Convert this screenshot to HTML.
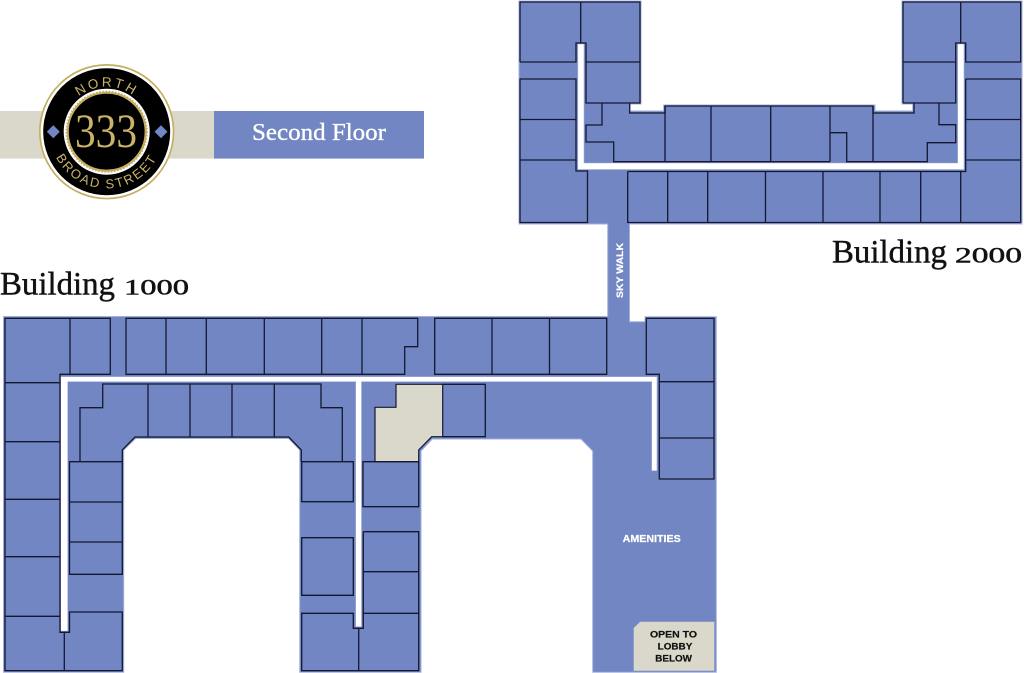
<!DOCTYPE html>
<html><head><meta charset="utf-8"><style>
html,body{margin:0;padding:0;background:#fff;width:1024px;height:673px;overflow:hidden}
svg{display:block}
.s{font-family:"Liberation Serif",serif}
.b{font-family:"Liberation Sans",sans-serif;font-weight:700}
</style></head><body>
<svg width="1024" height="673" viewBox="0 0 1024 673" xmlns="http://www.w3.org/2000/svg">
<!-- header band -->
<rect x="0" y="111" width="214" height="47.6" fill="#dad8cb"/>
<rect x="214" y="111" width="210" height="47.6" fill="#7286c3"/>
<text class="s" x="252" y="140" font-size="24" fill="#fff" stroke="#fff" stroke-width=".35" textLength="134" lengthAdjust="spacingAndGlyphs">Second Floor</text>

<!-- logo -->
<circle cx="106.7" cy="131.7" r="67.7" fill="#c4ae62"/>
<circle cx="106.7" cy="131.7" r="66" fill="#fff"/>
<circle cx="106.7" cy="131.7" r="63.5" fill="#000"/>
<circle cx="106.7" cy="131.7" r="43" fill="#fff"/>
<circle cx="106.7" cy="131.7" r="39" fill="#000" stroke="#c4ae62" stroke-width="2.2"/>
<circle cx="106.7" cy="131.7" r="40.4" fill="none" stroke="#c4ae62" stroke-width="1.4" stroke-dasharray="1.6 1.6"/>
<polygon points="53.3,125.2 59.8,131.7 53.3,138.2 46.8,131.7" fill="#7286c3"/>
<polygon points="161,125.2 167.5,131.7 161,138.2 154.5,131.7" fill="#7286c3"/>
<text class="s" x="75" y="147" font-size="48" fill="#c9b368" textLength="62" lengthAdjust="spacingAndGlyphs">333</text>
<defs>
<path id="arcTop" d="M 61.7 131.7 A 45 45 0 0 1 151.7 131.7"/>
<path id="arcBot" d="M 50 131.7 A 56.7 56.7 0 0 0 163.4 131.7"/>
</defs>
<text font-family="Liberation Sans, sans-serif" font-size="13.5" fill="#c9b368" letter-spacing="2.5" text-anchor="middle"><textPath href="#arcTop" startOffset="50%">NORTH</textPath></text>
<text font-family="Liberation Sans, sans-serif" font-size="13" fill="#c9b368" letter-spacing="2" text-anchor="middle"><textPath href="#arcBot" startOffset="50%">BROAD STREET</textPath></text>

<!-- building labels -->
<g fill="#111" stroke="#111" stroke-width=".45">
<text class="s" x="832" y="262.7" font-size="33" textLength="115" lengthAdjust="spacingAndGlyphs">Building</text>
<text class="s" x="955" y="262.7" font-size="22" textLength="67" lengthAdjust="spacingAndGlyphs">2000</text>
<text class="s" x="0" y="294.7" font-size="33" textLength="115" lengthAdjust="spacingAndGlyphs">Building</text>
<text class="s" x="124" y="294.7" font-size="22" textLength="65" lengthAdjust="spacingAndGlyphs">1000</text>
</g>

<!-- blue floor plate -->
<path fill="#7286c3" stroke="#a3b0dc" stroke-width="1" d="
M519,1 H641 V104 H630 V111 H663.7 V105 H875 V111 H912.7 V104 H902 V1 H1022 V224 H629.5 V321.7 H645 V316.7 H716.3 V672.3 H592.7 V451 L581,439 H432.3 L421,451 V672.3 H299.7 V450 L288.7,438.5 H135.7 L123.7,450 V672.3 H3.5 V316.5 H607.7 V224 H519 Z"/>

<!-- white corridors -->
<g fill="#fff" stroke="#a3b0dc" stroke-width=".6">
<path d="M577.8,44 H584 V163 H957.7 V44 H964 V169.5 H577.8 Z"/>
<path d="M60.7,376.7 H657 V470.7 H651.7 V381.7 H361.5 V626.7 H355.7 V381.7 H67.7 V631 H60.7 Z"/>
</g>

<!-- beige -->
<polygon points="396,384.3 442.7,384.3 442.7,436.7 431.7,436.7 418.7,450 418.7,461.7 375,461.7 375,407.3 396,407.3" fill="#dad8cb" stroke="#141830" stroke-width="1.2"/>
<polygon points="640.3,621.7 714.3,621.7 714.3,670.7 633.7,670.7 633.7,628" fill="#dad8cb"/>

<!-- room lines -->
<g fill="none" stroke="#141830" stroke-width="1.3">
<!-- B2000 left wing -->
<path d="M520,62 V2 H640 V103 H586 V43 H576 V62 H520"/>
<path d="M580.7,2 V43 M586,62 H640"/>
<path d="M629.7,103 V113 H665 V106 H873 V113 H914 V103"/>
<path d="M665,106 V161.7 M711,106 V161.7 M770.7,106 V161.7 M830,106 V161.7 M873,106 V161.7"/>
<path d="M520,79 H576 V160 H520 Z M520,119.5 H576"/>
<path d="M520,160 V222.5 H587.5 V171 H576 V160"/>
<path d="M602,103 V125 H586 V142 H613.7 V161.7 H830"/>
<path d="M830,132.7 H846.7 V161.7 H927.3 V142.7 H955.7 V124.7 H939 V103"/>
<!-- B2000 bottom row -->
<path d="M627.7,171.5 H965.7 V160 M627.7,171.5 V222.5 H1020.7"/>
<path d="M667.7,171.5 V222.5 M707.7,171.5 V222.5 M765.5,171.5 V222.5 M823,171.5 V222.5 M880,171.5 V222.5 M920.7,171.5 V222.5 M960.7,171.5 V222.5"/>
<!-- B2000 right wing -->
<path d="M903,103 V2 H1020.7 V62 H965.7 V43 H955.7 V103 H903 M960.7,2 V43 M903,62 H955.7"/>
<path d="M965.7,79 H1020.7 V222.5 M965.7,79 V160 H1020.7 M965.7,119.5 H1020.7"/>
<!-- B1000 top row -->
<path d="M5,382.7 V318.3 H110.3 V374.3 H60 V382.7 H5 M70,318.3 V374.3"/>
<path d="M126,318.3 H417.7 V346.7 H404.7 V374.3 H126 Z M166,318.3 V374.3 M206.3,318.3 V374.3 M264.3,318.3 V374.3 M321.7,318.3 V374.3 M362,318.3 V374.3"/>
<path d="M434.7,318.3 H606.7 V374.3 H434.7 Z M492,318.3 V374.3 M549.5,318.3 V374.3"/>
<path d="M646.3,318.3 H714 V479 H659.3 V374.3 H646.3 Z M659.3,381.7 H714 M659.3,438 H714"/>
<!-- B1000 left column -->
<path d="M5,382.7 V670.7 H122.3 V612 H69.5 V632.3 H60 V382.7"/>
<path d="M5,441.7 H60 M5,499.3 H60 M5,556.7 H60 M5,616.3 H60 M64.3,632.3 V670.7"/>
<!-- inner U -->
<path d="M69.5,461.7 H122.3 V574.3 H69.5 Z M69.5,502 H122.3 M69.5,542 H122.3"/>
<path d="M80,461.7 V407.7 H102.7 V384 H321 V407.7 H342.3 V461.7"/>
<path d="M122.3,461.7 V450 L135,437 H288.7 L301.3,450 V461.7"/>
<path d="M148,384 V437 M190,384 V437 M232,384 V437 M274.3,384 V437"/>
<path d="M301.7,461.7 H353.3 V501.7 H301.7 Z M301.7,537.7 H353.3 V595.3 H301.7 Z"/>
<path d="M301.7,613.3 H353.3 V628.3 H363.3 V613.3 H418.7 V670.7 H301.7 Z M358.7,628.3 V670.7"/>
<path d="M363,461.7 H418.7 V506.7 H363 Z M363.3,531.7 H418.7 V613.3 M363.3,531.7 V613.3 M363.3,571.7 H418.7"/>
<path d="M442.7,384.3 H485.3 V436.7 H442.7"/>
</g>

<!-- labels -->
<text class="b" x="623" y="298" font-size="9" fill="#fff" stroke="#fff" stroke-width=".2" transform="rotate(-90 623 298)" textLength="55" lengthAdjust="spacingAndGlyphs">SKY WALK</text>
<text class="b" x="622.7" y="542" font-size="10" fill="#fff" stroke="#fff" stroke-width=".25" textLength="58" lengthAdjust="spacingAndGlyphs">AMENITIES</text>
<g class="b" font-size="9.6" fill="#111" stroke="#111" stroke-width=".2">
<text x="650" y="637.3" textLength="47" lengthAdjust="spacingAndGlyphs">OPEN TO</text>
<text x="657.7" y="649.3" textLength="34.6" lengthAdjust="spacingAndGlyphs">LOBBY</text>
<text x="655.3" y="661.7" textLength="36.7" lengthAdjust="spacingAndGlyphs">BELOW</text>
</g>
</svg>
</body></html>
